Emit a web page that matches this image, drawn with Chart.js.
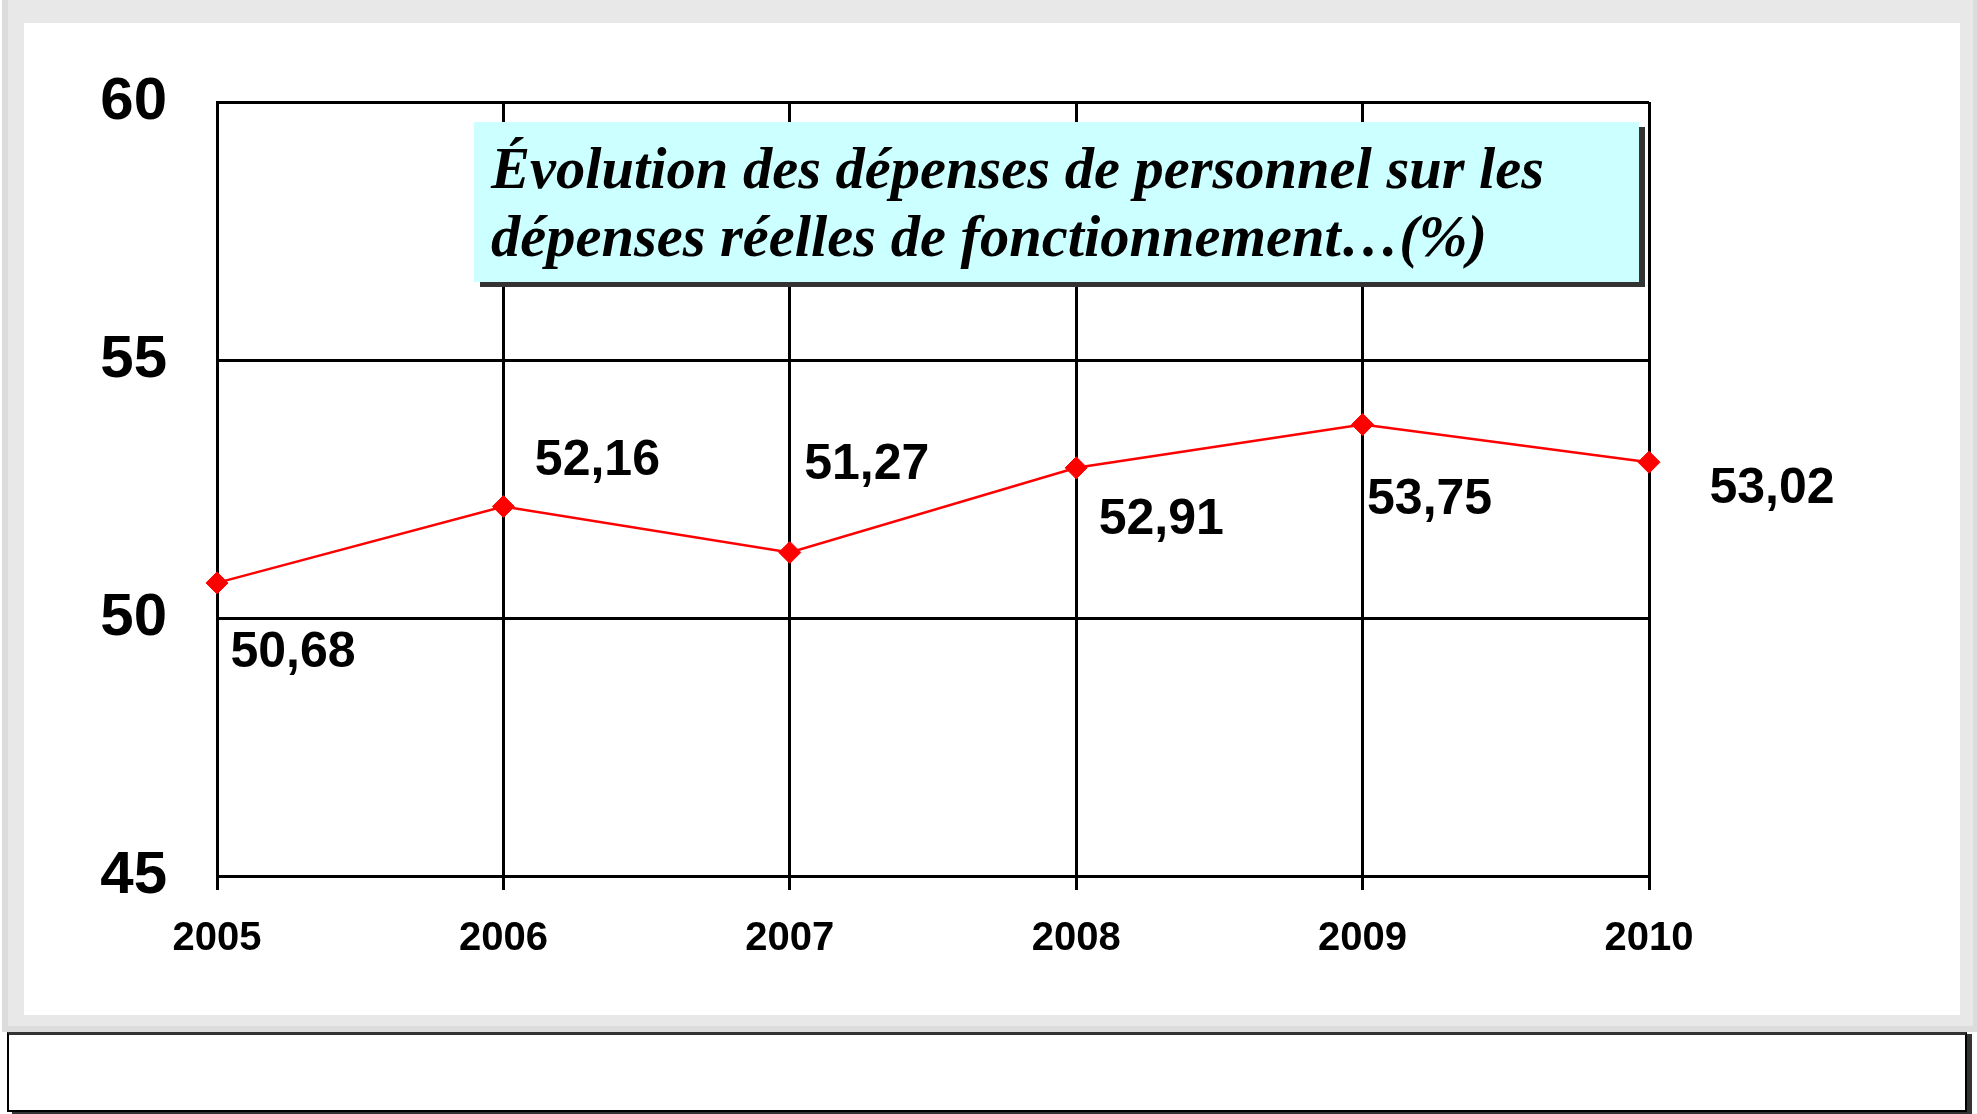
<!DOCTYPE html>
<html>
<head>
<meta charset="utf-8">
<script src="https://cdn.jsdelivr.net/npm/chart.js@4/dist/chart.umd.min.js"></script>
<style>
  html, body { margin: 0; padding: 0; background: #fff; }
  body { width: 1977px; height: 1114px; position: relative; overflow: hidden; }
  #frame {
    position: absolute; left: 2px; top: 0; width: 1975px; height: 1032px;
    box-sizing: border-box; background: #fff;
    border-style: solid; border-color: #e8e8e8;
    border-width: 23px 17px 17px 22px;
  }
  #frameEdge {
    position: absolute; left: 2px; top: 0; width: 1975px; height: 1032px;
    box-sizing: border-box; border-style: solid; border-color: #dcdcdc;
    border-width: 0 4px 6px 6px;
  }
  #chart { position: absolute; left: 0; top: 0; }
  #title {
    position: absolute; left: 474px; top: 122px; width: 1165px; height: 160px;
    box-sizing: border-box; background: #ccffff;
    box-shadow: 6px 5px 0 #333;
    padding: 13px 0 0 17px;
    font-family: "Liberation Serif", "Times New Roman", serif;
    font-weight: bold; font-style: italic; font-size: 58.5px; line-height: 68px;
    color: #000; white-space: nowrap;
  }
  #note {
    position: absolute; left: 7px; top: 1032px; width: 1960px; height: 80px;
    box-sizing: border-box; background: #fff;
    border: 2px solid #000; border-top: 3px solid #333;
    box-shadow: 5px 2px 0 #333;
  }
</style>
</head>
<body>
<div id="frame"></div>
<div id="frameEdge"></div>
<canvas id="chart" width="1977" height="1114"></canvas>
<div id="title">Évolution des dépenses de personnel sur les<br>dépenses réelles de fonctionnement…(%)</div>
<div id="note"></div>
<script>
// données
const years = ['2005', '2006', '2007', '2008', '2009', '2010'];
const ratio = [50.68, 52.16, 51.27, 52.91, 53.75, 53.02];
const yTicks = [45, 50, 55, 60];

// décalage des étiquettes par rapport au point (px)
const labelOffsets = [[76, 70], [94, -45], [77, -87], [85, 52], [67, 76], [123, 27]];

Chart.defaults.font.family = '"Liberation Sans", Arial, sans-serif';
Chart.defaults.color = '#000';

const valueLabels = {
    id: 'valueLabels',
    afterDatasetsDraw(chart) {
        const ctx = chart.ctx;
        const meta = chart.getDatasetMeta(0);
        ctx.save();
        ctx.font = 'bold 50px "Liberation Sans", Arial, sans-serif';
        ctx.fillStyle = '#000';
        ctx.textAlign = 'center';
        ctx.textBaseline = 'middle';
        meta.data.forEach((pt, i) => {
            const txt = ratio[i].toFixed(2).replace('.', ',');
            ctx.fillText(txt, pt.x + labelOffsets[i][0], pt.y + labelOffsets[i][1]);
        });
        ctx.restore();
    }
};

new Chart(document.getElementById('chart'), {
    type: 'line',
    data: {
        labels: years,
        datasets: [{
            data: ratio,
            borderColor: '#ff0000',
            borderWidth: 2.5,
            backgroundColor: '#ff0000',
            pointStyle: 'rectRot',
            pointRadius: 11,
            pointBorderWidth: 1,
            pointBorderColor: '#ff0000',
            pointBackgroundColor: '#ff0000',
            tension: 0,
            fill: false
        }]
    },
    options: {
        responsive: false,
        devicePixelRatio: 1,
        animation: false,
        layout: { padding: { top: 102, right: 328, bottom: 0, left: 0 } },
        plugins: {
            legend: { display: false },
            tooltip: { enabled: false },
            title: { display: false }
        },
        scales: {
            x: {
                type: 'category',
                offset: false,
                grid: { color: '#000', lineWidth: 3, drawTicks: true, tickLength: 14 },
                border: { color: '#000', width: 3 },
                ticks: { font: { size: 40, weight: 'bold' }, padding: 25, maxRotation: 0 },
                afterFit: (s) => { s.height = 238; }
            },
            y: {
                min: 45,
                max: 60,
                grid: { color: '#000', lineWidth: 3, drawTicks: false },
                border: { color: '#000', width: 3 },
                ticks: { font: { size: 60, weight: 'bold' }, padding: 50 },
                afterBuildTicks: (s) => { s.ticks = yTicks.map(v => ({ value: v })); },
                afterFit: (s) => { s.width = 217; }
            }
        }
    },
    plugins: [valueLabels]
});
</script>
</body>
</html>
